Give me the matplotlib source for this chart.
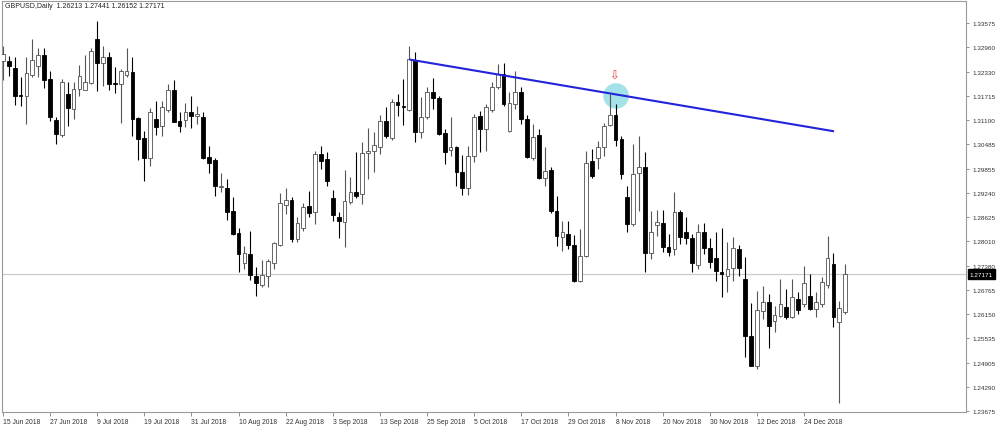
import numpy as np
import matplotlib
matplotlib.use('Agg')
import matplotlib.pyplot as plt
import matplotlib.transforms as mtransforms

plt.rcParams['font.family'] = ['Liberation Sans', 'DejaVu Sans']

# GBPUSD daily candles, 15 Jun 2018 .. 4 Jan 2019
opens = [1.32606, 1.32614, 1.32420, 1.31739, 1.31721, 1.32249, 1.32486, 1.32759, 1.32147, 1.31102,
         1.30727, 1.31765, 1.31382, 1.31892, 1.31867, 1.32037, 1.33167, 1.32547, 1.32700, 1.32032,
         1.32020, 1.32257, 1.32333, 1.31145, 1.30635, 1.30125, 1.31127, 1.30941, 1.31364, 1.31867,
         1.31084, 1.31109, 1.31313, 1.31211, 1.31170, 1.30150, 1.30089, 1.29393, 1.29368, 1.28773,
         1.28212, 1.27455, 1.27685, 1.27131, 1.26894, 1.27131, 1.27455, 1.27922, 1.28934, 1.29069,
         1.28067, 1.28340, 1.28901, 1.28748, 1.30235, 1.30107, 1.29105, 1.28636, 1.28493, 1.29018,
         1.29273, 1.29215, 1.30252, 1.30319, 1.30405, 1.31084, 1.30643, 1.31553, 1.31466, 1.31364,
         1.32639, 1.30788, 1.31170, 1.31808, 1.31655, 1.30762, 1.30337, 1.30405, 1.29783, 1.29360,
         1.30176, 1.31211, 1.30872, 1.31364, 1.31951, 1.32262, 1.30829, 1.31510, 1.31823, 1.31127,
         1.30133, 1.30706, 1.29615, 1.29827, 1.28773, 1.28126, 1.28207, 1.27914, 1.27004, 1.27626,
         1.30064, 1.30125, 1.30405, 1.30974, 1.31229, 1.30604, 1.29130, 1.28450, 1.29750, 1.29895,
         1.27710, 1.28424, 1.28475, 1.27855, 1.27812, 1.28763, 1.28238, 1.28085, 1.27404, 1.28238,
         1.27830, 1.27583, 1.27226, 1.27136, 1.27315, 1.27804, 1.27055, 1.25594, 1.24836, 1.26239,
         1.26453, 1.25976, 1.26104, 1.26325, 1.26070, 1.26537, 1.26410, 1.26606, 1.26282, 1.26397,
         1.26894, 1.27422, 1.25958, 1.26213]
highs = [1.32989, 1.32741, 1.32716, 1.32190, 1.32716, 1.33167, 1.32930, 1.32930, 1.32343, 1.31186,
         1.32147, 1.32078, 1.32063, 1.32504, 1.32759, 1.32930, 1.33634, 1.32996, 1.32828, 1.32445,
         1.32402, 1.32930, 1.32700, 1.31170, 1.30829, 1.31400, 1.31578, 1.31594, 1.32020, 1.32129,
         1.31298, 1.31527, 1.31721, 1.31451, 1.31298, 1.30431, 1.30125, 1.29742, 1.29597, 1.29130,
         1.28348, 1.27896, 1.28263, 1.27345, 1.27539, 1.27557, 1.27998, 1.29240, 1.29360, 1.29130,
         1.28620, 1.28985, 1.29299, 1.30319, 1.30446, 1.30278, 1.29324, 1.28763, 1.29827, 1.29640,
         1.30278, 1.30533, 1.30890, 1.30788, 1.31229, 1.31425, 1.31637, 1.31765, 1.32147, 1.32981,
         1.32828, 1.31680, 1.31935, 1.32165, 1.31706, 1.30872, 1.31170, 1.30446, 1.30209, 1.30446,
         1.31255, 1.31339, 1.31510, 1.32063, 1.32537, 1.32563, 1.31823, 1.32359, 1.31935, 1.31229,
         1.31000, 1.30872, 1.30405, 1.29895, 1.29171, 1.28534, 1.28534, 1.28169, 1.28322, 1.30319,
         1.30370, 1.30574, 1.31025, 1.31765, 1.31497, 1.30701, 1.29431, 1.30477, 1.30701, 1.30286,
         1.28789, 1.28814, 1.28814, 1.28195, 1.29266, 1.28814, 1.28620, 1.28195, 1.28450, 1.28475,
         1.28080, 1.28238, 1.28348, 1.27978, 1.28110, 1.27914, 1.27600, 1.26435, 1.26733, 1.26876,
         1.26665, 1.26366, 1.27047, 1.26792, 1.27047, 1.26708, 1.27391, 1.27175, 1.26728, 1.27090,
         1.28151, 1.27718, 1.26478, 1.27441]
lows = [1.32122, 1.32231, 1.31492, 1.31466, 1.31000, 1.32190, 1.32206, 1.31918, 1.31084, 1.30490,
        1.30660, 1.30956, 1.31127, 1.31721, 1.31867, 1.32020, 1.31849, 1.31976, 1.31867, 1.31782,
        1.31017, 1.32190, 1.30701, 1.30089, 1.29554, 1.29936, 1.30719, 1.30701, 1.31313, 1.31043,
        1.30803, 1.30915, 1.30890, 1.31000, 1.30107, 1.29750, 1.29171, 1.29258, 1.28559, 1.28169,
        1.27218, 1.27302, 1.27029, 1.26621, 1.26835, 1.26835, 1.27302, 1.27889, 1.28705, 1.27998,
        1.27983, 1.28279, 1.28620, 1.28450, 1.29852, 1.29426, 1.28534, 1.28085, 1.27855, 1.28960,
        1.29105, 1.28960, 1.29597, 1.29783, 1.30235, 1.30635, 1.30592, 1.31196, 1.30974, 1.31339,
        1.30533, 1.30635, 1.31127, 1.31382, 1.30719, 1.29980, 1.30191, 1.29426, 1.29189, 1.29189,
        1.30023, 1.30278, 1.30319, 1.31313, 1.31892, 1.31459, 1.30796, 1.31382, 1.31000, 1.30125,
        1.30089, 1.29597, 1.29426, 1.28730, 1.27881, 1.27769, 1.27812, 1.26963, 1.26963, 1.27600,
        1.29615, 1.29852, 1.30191, 1.30936, 1.30439, 1.29589, 1.28246, 1.28406, 1.28789, 1.27218,
        1.27557, 1.28151, 1.27743, 1.27641, 1.27659, 1.27940, 1.27940, 1.27218, 1.27302, 1.27685,
        1.27320, 1.26996, 1.26580, 1.26708, 1.27004, 1.27116, 1.25050, 1.24816, 1.24760, 1.26027,
        1.25275, 1.25688, 1.26070, 1.26027, 1.26045, 1.26155, 1.26325, 1.26257, 1.26078, 1.26325,
        1.26818, 1.25815, 1.23890, 1.26152]
closes = [1.32785, 1.32471, 1.31721, 1.31706, 1.32292, 1.32632, 1.32767, 1.32122, 1.31170, 1.30745,
          1.32078, 1.31400, 1.31892, 1.32231, 1.32078, 1.32853, 1.32547, 1.32700, 1.32020, 1.32007,
          1.32359, 1.32343, 1.31127, 1.30617, 1.30125, 1.31298, 1.30931, 1.31425, 1.31867, 1.31058,
          1.30956, 1.31313, 1.31211, 1.31255, 1.30133, 1.29997, 1.29411, 1.29419, 1.28763, 1.28195,
          1.27685, 1.27702, 1.27157, 1.26945, 1.27149, 1.27514, 1.27965, 1.28977, 1.29069, 1.28067,
          1.28475, 1.28875, 1.28730, 1.30235, 1.30064, 1.29554, 1.28687, 1.28518, 1.29028, 1.29273,
          1.29156, 1.30260, 1.30319, 1.30464, 1.31084, 1.30686, 1.31553, 1.31484, 1.31425, 1.32657,
          1.30803, 1.31170, 1.31823, 1.31655, 1.30745, 1.30278, 1.30421, 1.29768, 1.29368, 1.30176,
          1.31170, 1.30872, 1.31425, 1.31951, 1.32275, 1.31510, 1.31522, 1.31823, 1.31127, 1.30150,
          1.30660, 1.29615, 1.29809, 1.28781, 1.28136, 1.28253, 1.27914, 1.27004, 1.27641, 1.30005,
          1.29666, 1.30405, 1.30956, 1.31229, 1.30599, 1.29725, 1.28450, 1.29725, 1.29895, 1.27710,
          1.28238, 1.28508, 1.27855, 1.27743, 1.28748, 1.28110, 1.28085, 1.27455, 1.28238, 1.27830,
          1.27473, 1.27251, 1.27162, 1.27310, 1.27830, 1.27320, 1.25594, 1.24836, 1.26249, 1.26453,
          1.25841, 1.26129, 1.26397, 1.26070, 1.26580, 1.26257, 1.26945, 1.26282, 1.26448, 1.26971,
          1.27575, 1.26078, 1.26300, 1.27171]

# one date label every 8 bars
date_labels = ['15 Jun 2018', '27 Jun 2018', '9 Jul 2018', '19 Jul 2018', '31 Jul 2018',
               '10 Aug 2018', '22 Aug 2018', '3 Sep 2018', '13 Sep 2018', '25 Sep 2018',
               '5 Oct 2018', '17 Oct 2018', '29 Oct 2018', '8 Nov 2018', '20 Nov 2018',
               '30 Nov 2018', '12 Dec 2018', '24 Dec 2018']
price_ticks = [1.33575, 1.32960, 1.32330, 1.31715, 1.31100, 1.30485, 1.29855, 1.29240, 1.28625,
               1.28010, 1.27380, 1.26765, 1.26150, 1.25535, 1.24905, 1.24290, 1.23675]

last_price = 1.27171
trend_x = [69, 141.1]
trend_y = [1.32644, 1.30813]
mark_bar, mark_price = 104.1, 1.31714
arrow_price = 1.32236


def draw_candles(ax, o, h, l, c, width=0.64):
    o, h, l, c = map(np.asarray, (o, h, l, c))
    x = np.arange(len(o))
    up = c >= o
    body_lo = np.minimum(o, c)
    body_h = np.maximum(np.abs(c - o), 0.00012)
    # wicks first so the bodies sit on top
    ax.vlines(x[up], l[up], h[up], color='#555555', lw=0.8, zorder=2)
    ax.vlines(x[~up], l[~up], h[~up], color='black', lw=0.8, zorder=2)
    ax.bar(x[up], body_h[up], bottom=body_lo[up], width=width, color='white',
           edgecolor='#505050', linewidth=0.6, zorder=3)
    ax.bar(x[~up], body_h[~up], bottom=body_lo[~up], width=width, color='black',
           edgecolor='black', linewidth=0.6, zorder=3)


fig = plt.figure(figsize=(10, 4.31), dpi=100, facecolor='white')
ax = fig.add_axes([0.002, 0.0418, 0.964, 0.9536])

ax.axhline(last_price, color='#cccccc', lw=0.9, zorder=1)
ax.scatter([mark_bar], [mark_price], s=340, color='#a4e2ea', edgecolors='none', zorder=1.5)
draw_candles(ax, opens, highs, lows, closes)
ax.plot(trend_x, trend_y, color='#2323dc', lw=1.5, zorder=4, solid_capstyle='butt')
ax.text(mark_bar - 0.3, arrow_price, '\u21e9', color='#e03a3a', fontsize=8.5,
        ha='center', va='center', zorder=5)

ax.set_xlim(-0.15, 163.5)
ax.set_ylim(1.23656, 1.34136)

for s in ax.spines.values():
    s.set_color('#9a9a9a')
    s.set_linewidth(0.8)

ax.yaxis.tick_right()
ax.set_yticks(price_ticks)
ax.set_yticklabels(['%.5f' % p for p in price_ticks])
ax.tick_params(axis='y', length=2.5, width=0.6, color='#808080', labelsize=4.6,
               labelcolor='#333333', pad=2)

ax.set_xticks(np.arange(len(date_labels)) * 8)
ax.set_xticklabels(date_labels, ha='left')
ax.tick_params(axis='x', length=3, width=0.6, color='#808080', labelsize=4.9,
               labelcolor='#333333', pad=1.5)

# current price tag on the right axis
tr = mtransforms.blended_transform_factory(ax.transAxes, ax.transData)
ax.text(1.004, last_price, '%.5f' % last_price, transform=tr, ha='left', va='center',
        fontsize=4.6, color='white', zorder=6, clip_on=False,
        bbox=dict(boxstyle='square,pad=0.35', facecolor='black', edgecolor='black'))

fig.text(0.005, 0.984, 'GBPUSD,Daily  1.26213 1.27441 1.26152 1.27171', fontsize=5.0,
         color='#222222', ha='left', va='center')

fig.savefig('out.png', dpi=100, facecolor='white')
